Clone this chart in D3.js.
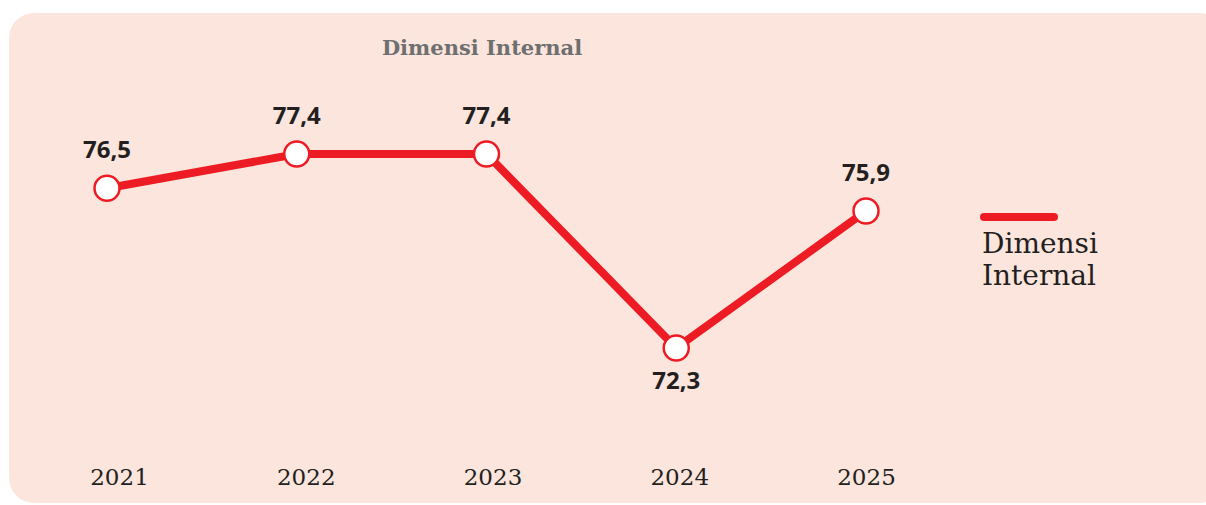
<!DOCTYPE html>
<html><head><meta charset="utf-8">
<script src="https://cdn.jsdelivr.net/npm/d3@7"></script>
<style>html,body{margin:0;padding:0;background:#fff;}svg{display:block;}</style>
</head><body>
<svg id="c" width="1206" height="505"></svg>
<script>
const years = ["2021","2022","2023","2024","2025"];
const values = [76.5, 77.4, 77.4, 72.3, 75.9];
const labels = ["76,5","77,4","77,4","72,3","75,9"];
const seriesName = "Dimensi Internal";
const legendLines = ["Dimensi","Internal"];

const svg = d3.select("#c");
const RED = "#ed1c24", BG = "#fce5dc", INK = "#231f20";

svg.append("rect").attr("x",9).attr("y",13).attr("width",1215).attr("height",490)
  .attr("rx",25).attr("fill",BG);

const x = d3.scalePoint().domain(years).range([107, 866]);
const xAxisScale = d3.scalePoint().domain(years).range([119, 866]);
const y = d3.scaleLinear().domain([72.3, 77.4]).range([348, 154]);

// title
svg.append("text").attr("x",482).attr("y",55).attr("text-anchor","middle")
  .attr("font-family","DejaVu Serif").attr("font-weight","bold").attr("font-size",21)
  .attr("fill","#6f6f70").text(seriesName);

// axis
const ax = svg.append("g").attr("transform","translate(0,485)")
  .call(d3.axisBottom(xAxisScale).tickSize(0).tickPadding(0));
ax.select(".domain").remove();
ax.selectAll("text").attr("font-family","DejaVu Serif").attr("font-size",23)
  .attr("fill",INK).attr("dy",0).attr("y",0);

const data = years.map((yr,i)=>({yr, v:values[i], l:labels[i]}));

svg.append("path").datum(data)
  .attr("d", d3.line().x(d=>x(d.yr)).y(d=>y(d.v)))
  .attr("fill","none").attr("stroke",RED).attr("stroke-width",8)
  .attr("stroke-linejoin","miter");

svg.selectAll("circle.pt").data(data).join("circle").attr("class","pt")
  .attr("cx",d=>x(d.yr)).attr("cy",d=>y(d.v)).attr("r",12.5)
  .attr("fill","#fff").attr("stroke",RED).attr("stroke-width",2.5);

const minV = d3.min(values);
svg.selectAll("text.lbl").data(data).join("text").attr("class","lbl")
  .attr("x",d=>x(d.yr))
  .attr("y",d=> d.v===minV ? y(d.v)+41 : y(d.v)-30)
  .attr("text-anchor","middle")
  .attr("font-family","Noto Sans").attr("font-weight","bold").attr("font-size",24)
  .attr("fill",INK).text(d=>d.l);

// legend
svg.append("line").attr("x1",984).attr("x2",1054).attr("y1",217).attr("y2",217)
  .attr("stroke",RED).attr("stroke-width",8).attr("stroke-linecap","round");
svg.append("text").attr("font-family","DejaVu Serif").attr("font-size",28)
  .attr("fill",INK)
  .selectAll("tspan").data(legendLines).join("tspan")
  .attr("x",982).attr("y",(d,i)=>253+i*32).text(d=>d);
</script>
</body></html>
